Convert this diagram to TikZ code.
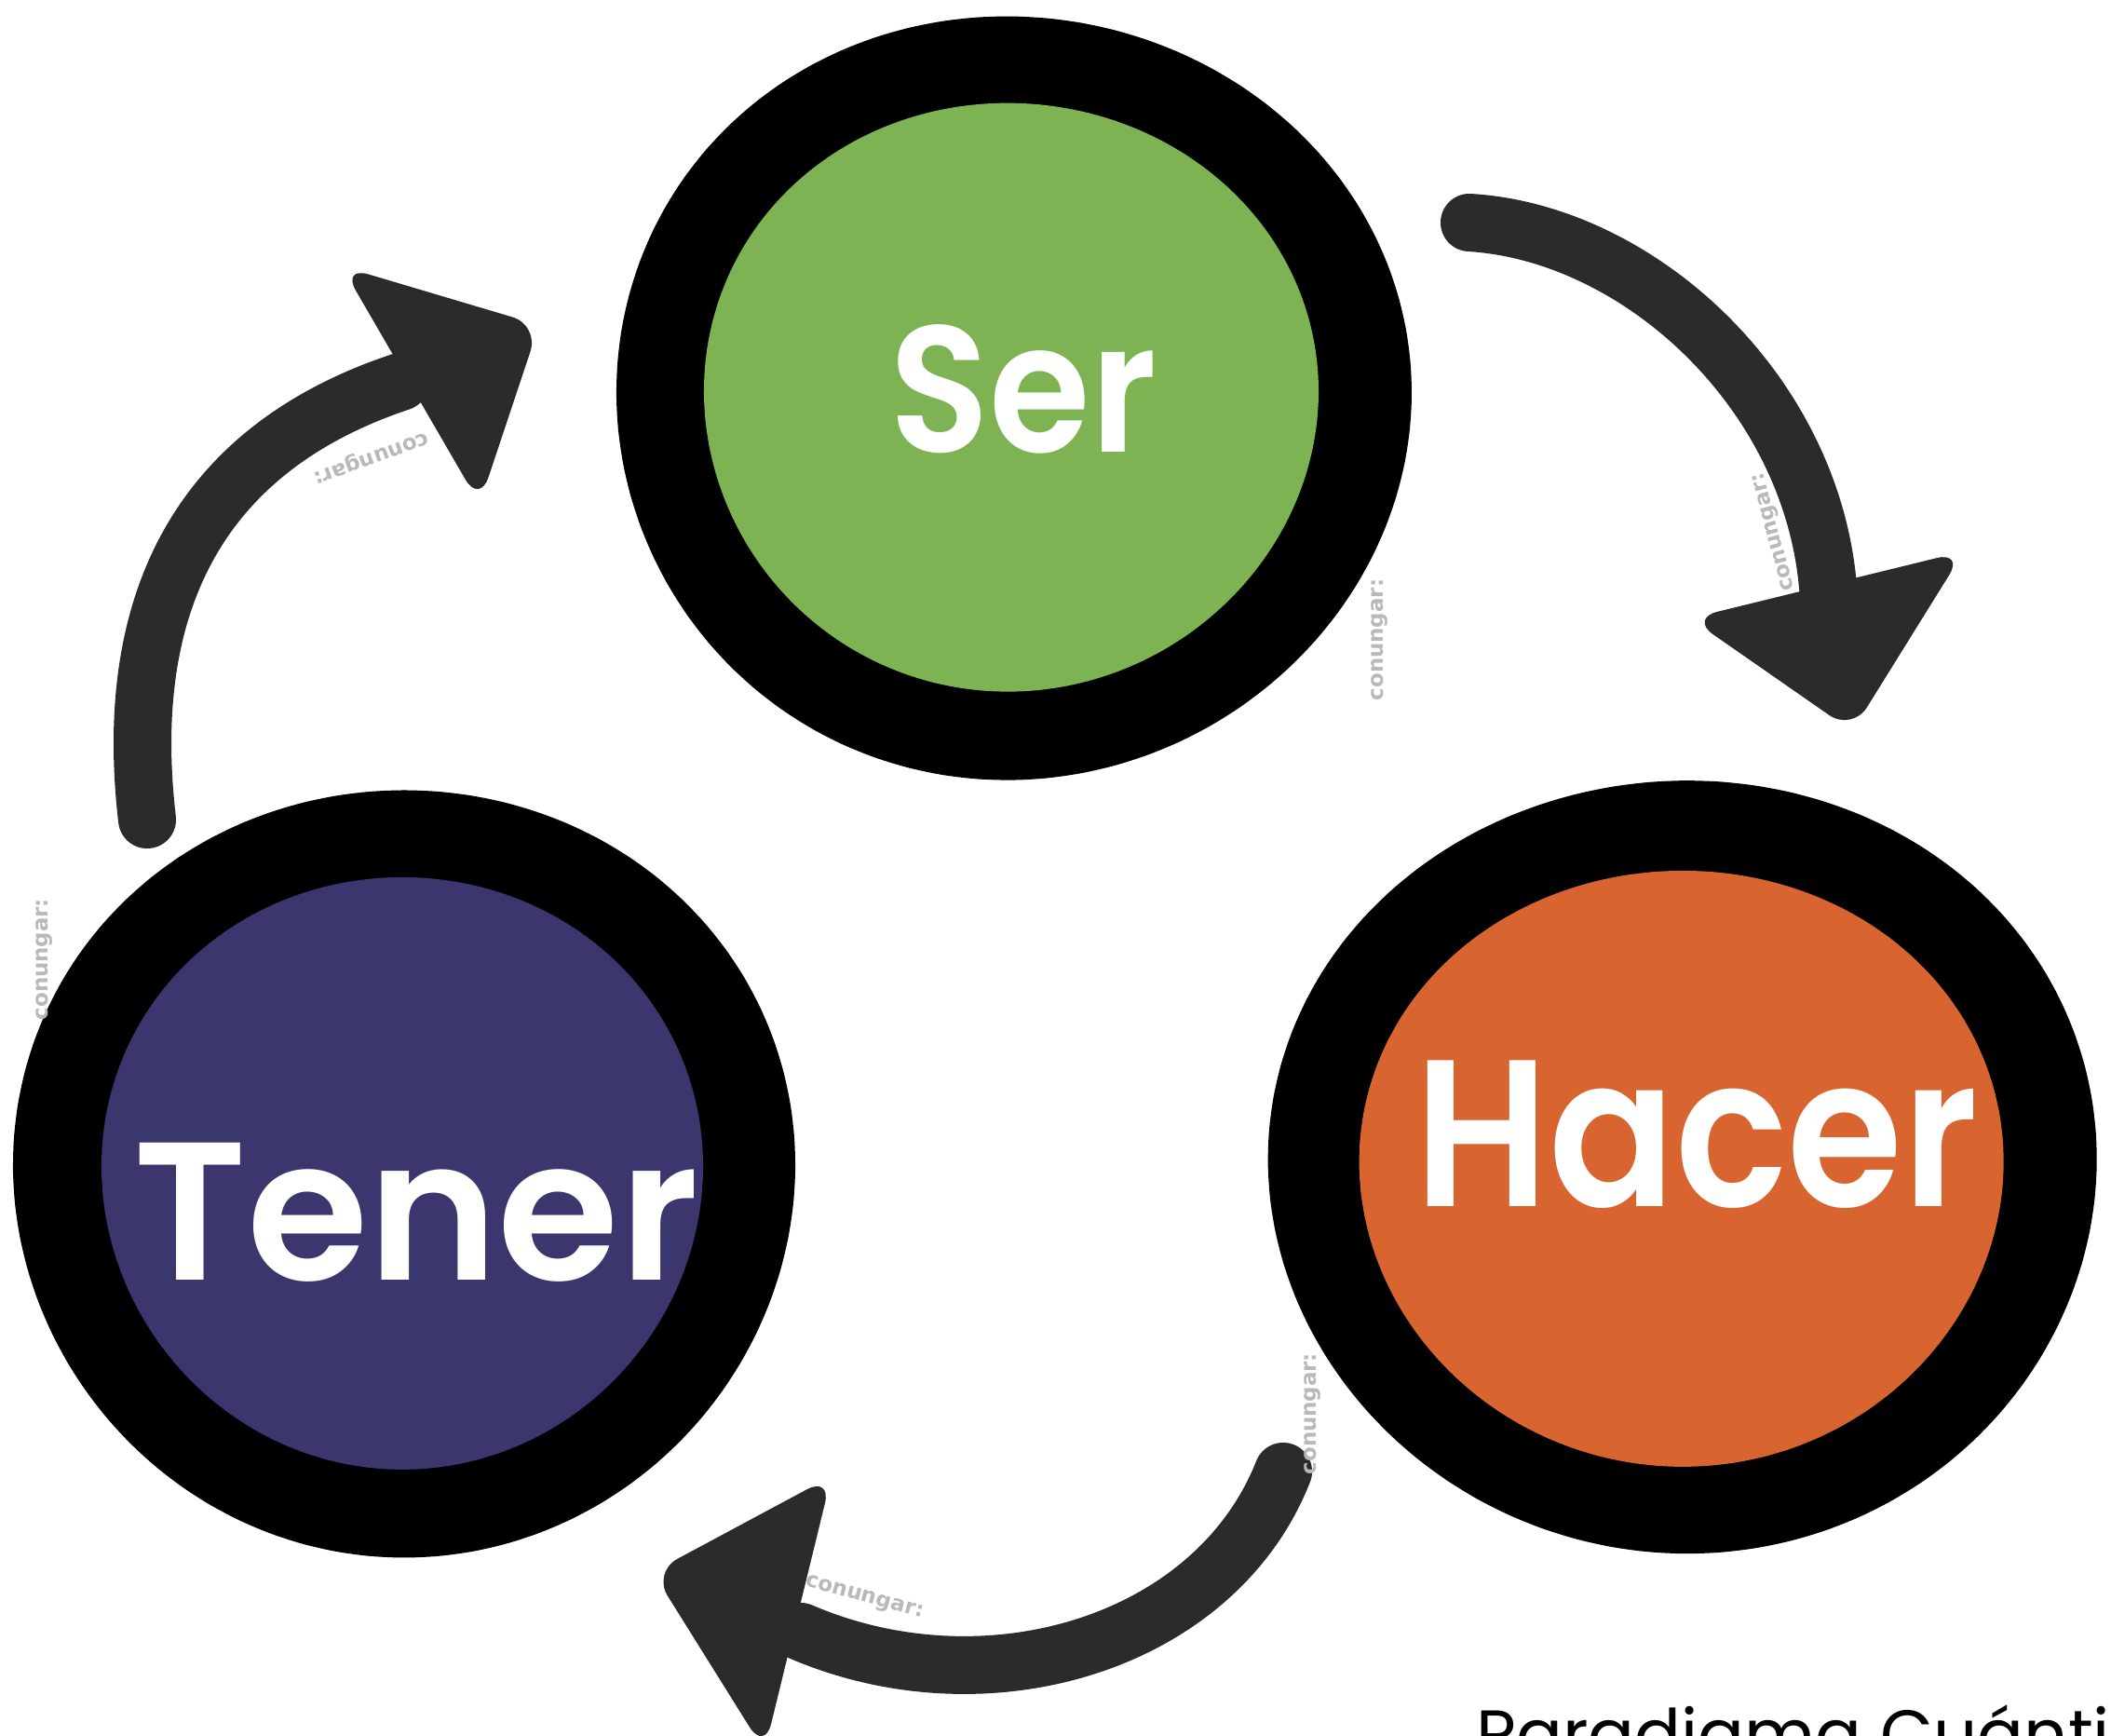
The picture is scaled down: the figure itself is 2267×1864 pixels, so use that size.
\documentclass[tikz,border=0pt]{standalone}
\usepackage{fontspec}
\newfontfamily\hand{Poppins}[UprightFont=* SemiBold]
\newfontfamily\plain{Poppins}
\newfontfamily\wm{DejaVu Sans}
\definecolor{sergreen}{RGB}{125,179,83}
\definecolor{tenpurple}{RGB}{59,55,110}
\definecolor{hacorange}{RGB}{216,101,48}
\definecolor{arrowc}{RGB}{43,43,41}
\definecolor{wmgray}{RGB}{185,185,185}
\begin{document}
\begin{tikzpicture}[x=0.01cm,y=-0.01cm,
  ring/.style={fill=black},
  shaft/.style={draw=arrowc,line width=0.62cm,line cap=round},
  head/.style={fill=arrowc,rounded corners=0.3cm},
  label/.style={text=white,inner sep=0pt},
  wmark/.style={text=wmgray,font=\wm\bfseries\fontsize{6.5}{6.5}\selectfont,inner sep=0pt}]
\useasboundingbox (0,0) rectangle (2267,1864);
\fill[white] (0,0) rectangle (2267,1864);
% --- Ser blob
\fill[ring] plot[domain=0:355,samples=72,smooth cycle,variable=\t]
  ({1087+427*cos(\t)*(1+0.006*cos(3*\t+40))},{426+410*sin(\t)*(1+0.006*cos(3*\t+40))});
\fill[sergreen] plot[domain=0:355,samples=72,smooth cycle,variable=\t]
  ({1085+330*cos(\t)*(1+0.006*cos(3*\t+60))},{425+316*sin(\t)*(1+0.006*cos(3*\t+60))});
% --- Tener blob
\fill[ring] plot[domain=0:355,samples=72,smooth cycle,variable=\t]
  ({434+420*cos(\t)*(1+0.006*cos(3*\t+90))},{1258+412*sin(\t)*(1+0.006*cos(3*\t+90))});
\fill[tenpurple] plot[domain=0:355,samples=72,smooth cycle,variable=\t]
  ({432+323*cos(\t)*(1+0.006*cos(3*\t+90))},{1258+318*sin(\t)*(1+0.006*cos(3*\t+90))});
% --- Hacer blob
\fill[ring] plot[domain=0:355,samples=72,smooth cycle,variable=\t]
  ({1808+445*cos(\t)*(1+0.006*cos(3*\t+120))},{1251+415*sin(\t)*(1+0.006*cos(3*\t+120))});
\fill[hacorange] plot[domain=0:355,samples=72,smooth cycle,variable=\t]
  ({1806+346*cos(\t)*(1+0.006*cos(3*\t+100))},{1253+320*sin(\t)*(1+0.006*cos(3*\t+100))});
% --- labels
\node[label,font=\hand\fontsize{50}{50}\selectfont] (ser) at (1099,418) {\scalebox{1}[1.1]{Ser}};
\node[label,font=\hand\fontsize{60}{60}\selectfont] (tener) at (447,1302) {Tener};
\node[label,font=\hand\fontsize{57}{57}\selectfont] (hacer) at (1822,1218) {\scalebox{1}[1.12]{Hacer}};
% --- arrow coordinates
\coordinate (a1s) at (158,880);
\coordinate (a1e) at (430,410);
\coordinate (a2s) at (1578,239);
\coordinate (a2e) at (1963,630);
\coordinate (a3s) at (1378,1580);
\coordinate (a3e) at (860,1752);
% --- arrows
\draw[shaft] (a1s) .. controls (130,640) and (220,480) .. (a1e);
\fill[head] (367,286) -- (579,349) -- (515,541) -- cycle;
\draw[shaft] (a2s) .. controls (1760,250) and (1945,420) .. (a2e);
\fill[head] (1815,664) -- (2109,592) -- (1989,785) -- cycle;
\draw[shaft] (a3s) .. controls (1305,1765) and (1060,1838) .. (a3e);
\fill[head] (701,1688) -- (893,1585) -- (821,1880) -- cycle;
% --- watermarks
\node[wmark,rotate=200] (w1) at (398,490) {conungar:};
\node[wmark,rotate=90] (w2) at (1482,687) {conungar:};
\node[wmark,rotate=90] (w3) at (48,1030) {conungar:};
\node[wmark,rotate=90] (w4) at (1410,1518) {conungar:};
\node[wmark,rotate=105] (w5) at (1906,571) {conungar:};
\node[wmark,rotate=-15] (w6) at (928,1716) {conungar:};
% --- bottom text
\begin{scope}
\clip (0,0) rectangle (2267,1864);
\node[anchor=base west,inner sep=0pt,font=\plain\fontsize{21}{21}\selectfont] (title) at (1585,1888) {Paradigma Cuánti};
\end{scope}
\end{tikzpicture}
\end{document}
